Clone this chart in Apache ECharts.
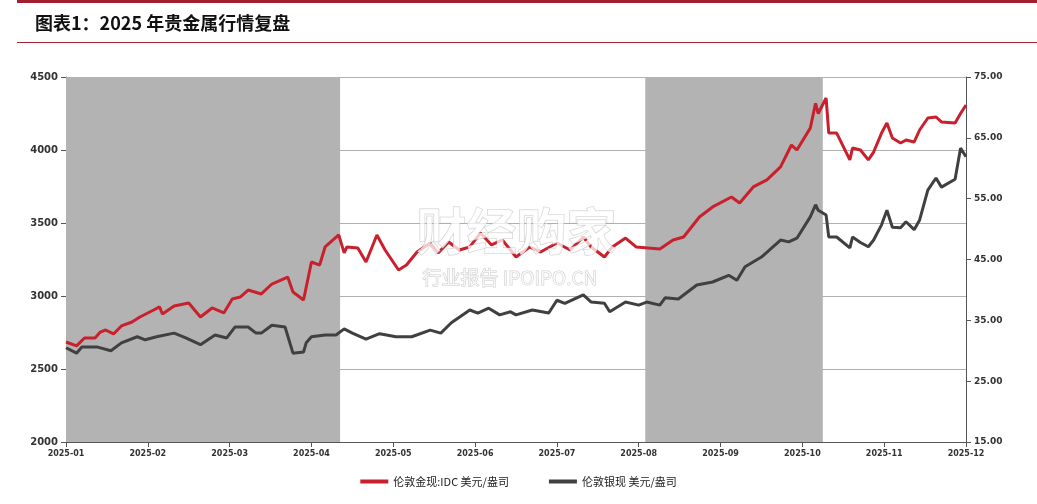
<!DOCTYPE html>
<html lang="zh">
<head>
<meta charset="UTF-8" />
<title>2025年贵金属行情复盘</title>
<script src="https://cdn.jsdelivr.net/npm/echarts@6/dist/echarts.min.js"></script>
<style>body{margin:0;background:#fff}#main{width:1037px;height:504px}</style>
</head>
<body>
<div id="main"></div>
<script>
// 伦敦金现：日期与价格
var goldDates = ['01-01','01-05','01-08','01-12','01-14','01-16','01-19','01-22','01-26','01-29','02-03','02-05','02-06','02-10','02-15','02-19','02-23','02-27','03-02','03-05','03-08','03-13','03-17','03-23','03-25','03-29','04-01','04-04','04-06','04-11','04-13','04-14','04-18','04-21','04-25','04-28','05-03','05-06','05-10','05-15','05-18','05-22','05-26','05-30','06-03','06-07','06-11','06-16','06-21','06-25','07-01','07-06','07-11','07-14','07-19','07-22','07-27','07-31','08-09','08-14','08-18','08-24','08-29','09-05','09-08','09-13','09-18','09-23','09-27','09-29','10-04','10-06','10-07','10-10','10-11','10-14','10-19','10-20','10-23','10-26','10-28','10-31','11-02','11-04','11-07','11-09','11-12','11-14','11-17','11-20','11-22','11-27','11-29','12-01'];
var gold = [2685,2658,2712,2712,2753,2767,2740,2795,2822,2856,2904,2925,2877,2932,2952,2856,2918,2884,2979,2993,3041,3014,3082,3130,3027,2973,3233,3212,3336,3418,3295,3336,3329,3233,3418,3315,3178,3212,3301,3363,3295,3370,3315,3336,3432,3350,3384,3267,3336,3301,3363,3315,3404,3336,3267,3336,3397,3336,3322,3384,3404,3541,3610,3678,3637,3747,3795,3884,4034,4000,4150,4320,4250,4356,4116,4116,3932,4014,4000,3932,3986,4116,4185,4082,4048,4068,4055,4137,4219,4226,4192,4185,4250,4308];
// 伦敦银现：日期与价格
var silverDates = ['01-01','01-05','01-07','01-13','01-18','01-22','01-28','01-31','02-04','02-10','02-14','02-19','02-24','02-28','03-03','03-08','03-11','03-13','03-17','03-22','03-25','03-29','03-30','04-01','04-06','04-10','04-13','04-16','04-21','04-26','05-02','05-08','05-15','05-19','05-23','05-30','06-02','06-06','06-10','06-14','06-16','06-22','06-28','07-01','07-04','07-11','07-14','07-19','07-21','07-27','08-01','08-04','08-09','08-11','08-16','08-23','08-29','09-04','09-07','09-10','09-16','09-23','09-26','09-29','10-04','10-06','10-07','10-10','10-11','10-14','10-19','10-20','10-23','10-26','10-28','10-31','11-02','11-04','11-07','11-09','11-12','11-14','11-17','11-20','11-22','11-27','11-29','12-01'];
var silver = [30.5,29.6,30.6,30.6,30.0,31.3,32.3,31.8,32.3,32.9,32.1,31.0,32.6,32.1,33.9,33.9,32.9,32.9,34.2,33.9,29.6,29.8,31.3,32.3,32.6,32.6,33.6,32.9,31.9,32.8,32.3,32.3,33.4,32.9,34.6,36.7,36.2,37.0,35.9,36.4,35.9,36.7,36.2,38.3,37.8,39.2,38.0,37.8,36.4,38.0,37.5,38.0,37.5,38.7,38.5,40.8,41.3,42.4,41.6,43.8,45.4,48.2,47.9,48.5,52.0,54.0,53.1,52.3,48.7,48.7,46.9,48.7,47.8,47.1,48.2,50.7,53.1,50.3,50.2,51.2,49.9,51.5,56.4,58.4,56.9,58.2,63.3,61.9];
var monthLabels = ['2025-01','2025-02','2025-03','2025-04','2025-05','2025-06','2025-07','2025-08','2025-09','2025-10','2025-11','2025-12'];
var shadeBands = [[0, 3.35], [7.08, 9.25]];

var dim = [31,28,31,30,31,30,31,31,30,31,30,31];
function pos(d) {
  var m = parseInt(d.slice(0, 2), 10), day = parseInt(d.slice(3), 10);
  return (m - 1) + (day - 1) / dim[m - 1];
}
var goldData = goldDates.map(function (d, i) { return [pos(d), gold[i]]; });
var silverData = silverDates.map(function (d, i) { return [pos(d), silver[i]]; });

var chart = echarts.init(document.getElementById('main'));
var axisFont = { fontFamily: 'DejaVu Sans', fontWeight: 'bold', color: '#333' };
chart.setOption({
  animation: false,
  title: {
    text: '图表1：2025 年贵金属行情复盘',
    left: 30, top: 9,
    textStyle: { fontFamily: 'Noto Sans CJK SC', fontSize: 18, fontWeight: 'bold', color: '#111' }
  },
  graphic: [
    { type: 'rect', shape: { x: 17, y: 0, width: 1020, height: 3 }, style: { fill: '#a02030' } },
    { type: 'rect', shape: { x: 17, y: 42, width: 1020, height: 1 }, style: { fill: '#a02030' } },
    { type: 'text', left: 416, top: 206, z: 10, style: { text: '财经购家', fontSize: 50, fontWeight: 'bold', fontFamily: 'Noto Sans CJK SC', fill: 'rgba(255,255,255,0.75)', stroke: 'rgba(170,170,170,0.6)', lineWidth: 1 } },
    { type: 'text', left: 422, top: 268, z: 10, style: { text: '行业报告 IPOIPO.CN', fontSize: 19, fontFamily: 'Noto Sans CJK SC', fill: 'rgba(255,255,255,0.75)', stroke: 'rgba(170,170,170,0.6)', lineWidth: 1 } }
  ],
  legend: {
    bottom: 12, left: 'center', itemWidth: 28, itemHeight: 4, itemGap: 40,
    icon: 'rect',
    textStyle: { fontFamily: 'Noto Sans CJK SC', fontSize: 11, color: '#222' },
    data: ['伦敦金现:IDC 美元/盎司', '伦敦银现 美元/盎司']
  },
  grid: { left: 66, right: 71, top: 77, bottom: 62 },
  xAxis: {
    type: 'value', min: 0, max: 11, interval: 1,
    splitLine: { show: false },
    axisLine: { lineStyle: { color: '#555' } },
    axisTick: { show: true, lineStyle: { color: '#555' } },
    axisLabel: Object.assign({ fontSize: 8, margin: 8, formatter: function (v) { return monthLabels[Math.round(v)]; } }, axisFont)
  },
  yAxis: [
    {
      type: 'value', min: 2000, max: 4500, interval: 500,
      axisLine: { show: true, lineStyle: { color: '#555' } },
      axisTick: { show: true },
      splitLine: { lineStyle: { color: '#b0b0b0' } },
      axisLabel: Object.assign({ fontSize: 10, formatter: function (v) { return String(v); } }, axisFont)
    },
    {
      type: 'value', min: 15, max: 75, interval: 10,
      axisLine: { show: true, lineStyle: { color: '#555' } },
      axisTick: { show: true },
      splitLine: { show: false },
      axisLabel: Object.assign({ fontSize: 9, formatter: function (v) { return v.toFixed(2); } }, axisFont)
    }
  ],
  series: [
    {
      name: '伦敦金现:IDC 美元/盎司', type: 'line', yAxisIndex: 0, data: goldData,
      showSymbol: false, lineStyle: { color: '#c8202c', width: 3 }, itemStyle: { color: '#c8202c' },
      markArea: {
        silent: true, itemStyle: { color: '#b3b3b3' },
        data: shadeBands.map(function (b) { return [{ xAxis: b[0] }, { xAxis: b[1] }]; })
      },
      z: 3
    },
    {
      name: '伦敦银现 美元/盎司', type: 'line', yAxisIndex: 1, data: silverData,
      showSymbol: false, lineStyle: { color: '#404040', width: 3 }, itemStyle: { color: '#404040' },
      z: 3
    }
  ]
});
</script>
</body>
</html>
